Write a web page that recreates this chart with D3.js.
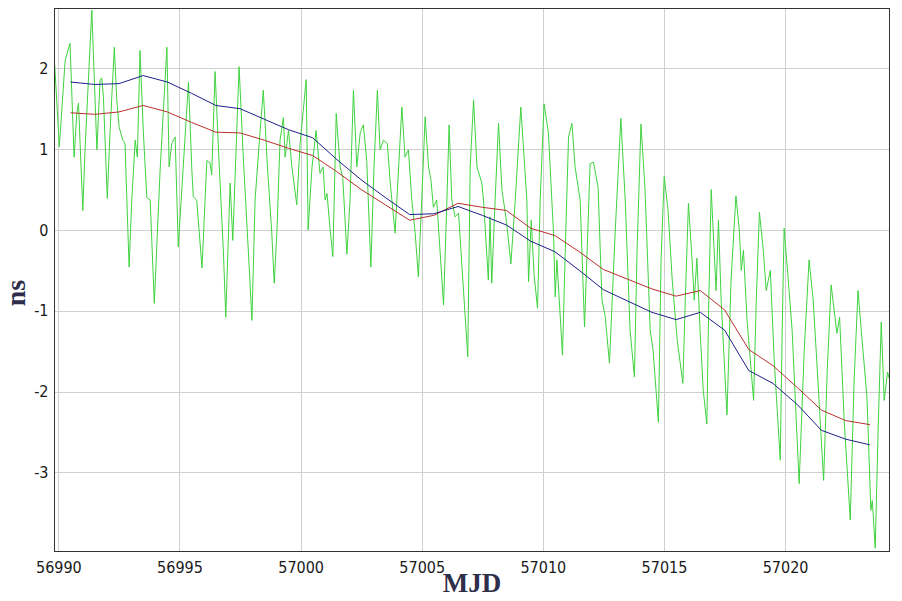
<!DOCTYPE html>
<html>
<head>
<meta charset="utf-8">
<script src="https://cdn.jsdelivr.net/npm/d3@7/dist/d3.min.js"></script>
<style>
  html, body { margin: 0; padding: 0; background: #fff; }
  svg { display: block; }
  .tick-label { font-family: "Liberation Sans Narrow", "DejaVu Sans Condensed", sans-serif; font-size: 16px; fill: #1a1a1a; }
  .axis-title { font-family: "Liberation Serif", "DejaVu Serif", serif; font-weight: bold; fill: #2e2e4a; }
</style>
</head>
<body>
<svg id="chart" width="902" height="601"></svg>
<script>
// Daily time-offset solutions (MJD, ns)
const dayMJD = [56990.5, 56991.5, 56992.5, 56993.5, 56994.5, 56995.5, 56996.5, 56997.5, 56998.5, 56999.5,
                57000.5, 57001.5, 57002.5, 57003.5, 57004.5, 57005.5, 57006.5, 57007.5, 57008.5, 57009.5,
                57010.5, 57011.5, 57012.5, 57013.5, 57014.5, 57015.5, 57016.5, 57017.5, 57018.5, 57019.5,
                57020.5, 57021.5, 57022.5, 57023.5];

const blueNs = [1.83, 1.80, 1.81, 1.91, 1.83, 1.69, 1.54, 1.50, 1.37, 1.24,
                1.14, 0.87, 0.62, 0.40, 0.19, 0.20, 0.29, 0.18, 0.06, -0.14,
                -0.27, -0.50, -0.74, -0.88, -1.02, -1.11, -1.02, -1.24, -1.74, -1.90,
                -2.16, -2.48, -2.59, -2.66];

const redNs = [1.45, 1.43, 1.46, 1.54, 1.46, 1.33, 1.21, 1.20, 1.11, 1.01,
               0.92, 0.72, 0.50, 0.31, 0.12, 0.18, 0.33, 0.28, 0.24, 0.02,
               -0.07, -0.27, -0.49, -0.61, -0.73, -0.82, -0.75, -0.99, -1.48, -1.68,
               -1.95, -2.23, -2.36, -2.41];

// Sub-daily series: [MJD, ns]
const greenPoints = [
  [56989.84, 2.08], [56990.04, 1.03], [56990.28, 2.10], [56990.48, 2.31], [56990.65, 0.90],
  [56990.76, 1.44], [56990.83, 1.57], [56991.01, 0.24], [56991.10, 0.99], [56991.20, 1.61],
  [56991.38, 2.72], [56991.59, 0.99], [56991.72, 1.85], [56991.79, 1.88], [56991.86, 1.64],
  [56992.02, 0.39], [56992.13, 1.20], [56992.31, 2.26], [56992.41, 1.61], [56992.51, 1.27],
  [56992.66, 1.11], [56992.75, 1.07], [56992.92, -0.46], [56993.03, 0.37], [56993.17, 1.11],
  [56993.26, 0.90], [56993.37, 2.22], [56993.51, 1.20], [56993.65, 0.40], [56993.79, 0.37],
  [56993.96, -0.91], [56994.20, 0.74], [56994.48, 2.26], [56994.57, 0.78], [56994.68, 1.07],
  [56994.82, 1.15], [56994.95, -0.21], [56995.37, 1.83], [56995.51, 0.74], [56995.57, 0.41],
  [56995.71, 0.37], [56995.93, -0.47], [56996.13, 0.86], [56996.26, 0.83], [56996.33, 0.68],
  [56996.47, 1.96], [56996.61, 0.99], [56996.81, -0.25], [56996.91, -1.08], [56997.09, 0.58],
  [56997.20, -0.13], [56997.46, 2.02], [56997.64, 0.86], [56997.84, -0.25], [56997.99, -1.12],
  [56998.12, 0.37], [56998.30, 1.11], [56998.46, 1.73], [56998.63, 0.78], [56998.81, -0.04],
  [56998.91, -0.66], [56999.02, -0.04], [56999.15, 1.11], [56999.29, 1.39], [56999.36, 0.90],
  [56999.50, 1.23], [56999.64, 0.78], [56999.84, 0.31], [56999.98, 1.07], [57000.23, 1.86],
  [57000.31, 0.00], [57000.47, 0.78], [57000.64, 1.23], [57000.80, 0.70], [57000.93, 0.78],
  [57001.01, 0.37], [57001.09, 0.45], [57001.22, 0.00], [57001.33, -0.33], [57001.47, 1.44],
  [57001.63, 0.78], [57001.74, 0.65], [57001.91, -0.30], [57002.04, 0.37], [57002.18, 1.73],
  [57002.32, 0.78], [57002.46, 1.20], [57002.59, 1.30], [57002.73, 0.86], [57002.90, -0.46],
  [57003.03, 0.78], [57003.17, 1.73], [57003.28, 0.99], [57003.42, 1.11], [57003.58, 1.07],
  [57003.70, 0.58], [57003.90, -0.04], [57004.18, 1.52], [57004.31, 0.90], [57004.45, 0.99],
  [57004.59, 0.37], [57004.73, -0.04], [57004.86, -0.58], [57005.00, 0.37], [57005.14, 1.40],
  [57005.28, 0.78], [57005.38, 0.62], [57005.48, 0.28], [57005.62, 0.37], [57005.90, -0.93],
  [57006.04, 0.37], [57006.13, 1.30], [57006.24, 0.37], [57006.38, 0.16], [57006.52, 0.21],
  [57006.90, -1.57], [57007.00, 0.78], [57007.14, 1.61], [57007.28, 0.78], [57007.48, 0.58],
  [57007.55, 0.37], [57007.75, -0.62], [57007.82, 0.16], [57007.89, -0.66], [57008.03, 0.37],
  [57008.17, 1.32], [57008.31, 0.50], [57008.50, 0.10], [57008.68, -0.42], [57008.86, 0.37],
  [57009.09, 1.52], [57009.34, 0.37], [57009.41, -0.64], [57009.52, 0.12], [57009.64, -0.56],
  [57009.78, -0.97], [57009.89, 0.37], [57010.05, 1.56], [57010.23, 1.20], [57010.44, -0.04],
  [57010.51, -0.83], [57010.58, -0.37], [57010.81, -1.55], [57010.96, 0.12], [57011.06, 1.15],
  [57011.20, 1.32], [57011.33, 0.78], [57011.54, 0.37], [57011.72, -1.20], [57011.83, -0.25],
  [57011.95, 0.82], [57012.09, 0.84], [57012.28, 0.53], [57012.44, -0.87], [57012.57, -1.06],
  [57012.75, -1.65], [57012.99, 0.00], [57013.22, 1.38], [57013.40, 0.37], [57013.60, -1.24],
  [57013.78, -1.82], [57013.89, -0.25], [57014.05, 1.31], [57014.22, 0.49], [57014.43, -1.24],
  [57014.55, -1.49], [57014.77, -2.38], [57014.88, -0.37], [57015.01, 0.66], [57015.17, 0.24],
  [57015.34, -0.62], [57015.55, -1.37], [57015.78, -1.90], [57015.88, -0.87], [57016.01, 0.33],
  [57016.16, -0.37], [57016.25, -0.87], [57016.36, -0.35], [57016.49, -1.24], [57016.62, -1.98],
  [57016.77, -2.40], [57016.85, -0.87], [57016.95, 0.50], [57017.07, -0.25], [57017.15, -0.75],
  [57017.25, 0.12], [57017.36, -0.87], [57017.60, -2.29], [57017.77, -0.62], [57017.97, 0.42],
  [57018.11, 0.00], [57018.19, -0.50], [57018.28, -0.25], [57018.43, -1.12], [57018.70, -2.11],
  [57018.81, -0.87], [57018.94, 0.22], [57019.10, -0.25], [57019.22, -0.75], [57019.39, -0.50],
  [57019.55, -1.61], [57019.80, -2.85], [57019.88, -1.24], [57019.96, 0.02], [57020.13, -0.62],
  [57020.29, -1.24], [57020.58, -3.14], [57020.79, -1.49], [57020.99, -0.37], [57021.16, -0.87],
  [57021.33, -1.74], [57021.59, -3.10], [57021.74, -1.74], [57021.90, -0.68], [57022.14, -1.28],
  [57022.25, -1.08], [57022.44, -2.36], [57022.69, -3.59], [57022.85, -1.86], [57023.01, -0.75],
  [57023.18, -1.37], [57023.38, -2.07], [57023.54, -3.47], [57023.60, -3.35], [57023.72, -3.94],
  [57023.84, -2.48], [57023.97, -1.14], [57024.09, -2.11], [57024.23, -1.76], [57024.30, -1.84]
];

const xTicks = [56990, 56995, 57000, 57005, 57010, 57015, 57020];
const yTicks = [-3, -2, -1, 0, 1, 2];

const plot = { left: 54.5, right: 889.5, top: 8.5, bottom: 551.5 };
const svg = d3.select("#chart");

const x = d3.scaleLinear().domain([56989.84, 57024.31]).range([plot.left, plot.right]);
const y = d3.scaleLinear().domain([-3.98, 2.74]).range([plot.bottom, plot.top]);

svg.append("defs").append("clipPath").attr("id", "plot-clip")
  .append("rect")
  .attr("x", plot.left).attr("y", plot.top)
  .attr("width", plot.right - plot.left).attr("height", plot.bottom - plot.top);

// Grid
const grid = svg.append("g").attr("stroke", "#cfcfcf").attr("stroke-width", 1);
grid.selectAll("line.v").data(xTicks).join("line")
  .attr("class", "v")
  .attr("x1", d => Math.round(x(d)) + 0.5).attr("x2", d => Math.round(x(d)) + 0.5)
  .attr("y1", plot.top).attr("y2", plot.bottom);
grid.selectAll("line.h").data(yTicks).join("line")
  .attr("class", "h")
  .attr("x1", plot.left).attr("x2", plot.right)
  .attr("y1", d => Math.round(y(d)) + 0.5).attr("y2", d => Math.round(y(d)) + 0.5);

// Series
const lines = svg.append("g").attr("clip-path", "url(#plot-clip)").attr("fill", "none");

lines.append("path")
  .datum(greenPoints)
  .attr("stroke", "#3fd23f")
  .attr("stroke-width", 1)
  .attr("d", d3.line().x(d => x(d[0])).y(d => y(d[1])));

lines.append("path")
  .datum(dayMJD.map((m, i) => [m, redNs[i]]))
  .attr("stroke", "#b8302c")
  .attr("stroke-width", 1)
  .attr("d", d3.line().x(d => x(d[0])).y(d => y(d[1])));

lines.append("path")
  .datum(dayMJD.map((m, i) => [m, blueNs[i]]))
  .attr("stroke", "#1e1e8a")
  .attr("stroke-width", 1)
  .attr("d", d3.line().x(d => x(d[0])).y(d => y(d[1])));

// Frame
svg.append("rect")
  .attr("x", plot.left).attr("y", plot.top)
  .attr("width", plot.right - plot.left).attr("height", plot.bottom - plot.top)
  .attr("fill", "none").attr("stroke", "#333").attr("stroke-width", 1);

// Axes (labels only; plain hyphen for negatives)
const plainNumber = d => String(d);

const xAxis = d3.axisBottom(x).tickValues(xTicks).tickSize(0).tickPadding(10).tickFormat(plainNumber);
const gx = svg.append("g").attr("transform", `translate(0,${plot.bottom})`).call(xAxis);
gx.select(".domain").remove();
gx.attr("font-size", null).attr("font-family", null);
gx.selectAll("text").attr("class", "tick-label").attr("fill", null);

const yAxis = d3.axisLeft(y).tickValues(yTicks).tickSize(0).tickPadding(6).tickFormat(plainNumber);
const gy = svg.append("g").attr("transform", `translate(${plot.left},0)`).call(yAxis);
gy.select(".domain").remove();
gy.attr("font-size", null).attr("font-family", null);
gy.selectAll("text").attr("class", "tick-label").attr("fill", null);

// Axis titles
svg.append("text")
  .attr("class", "axis-title")
  .attr("x", (plot.left + plot.right) / 2).attr("y", 592)
  .attr("text-anchor", "middle").attr("font-size", 27)
  .text("MJD");

svg.append("text")
  .attr("class", "axis-title")
  .attr("transform", "translate(25,293) rotate(-90)")
  .attr("text-anchor", "middle").attr("font-size", 28)
  .text("ns");
</script>
</body>
</html>
